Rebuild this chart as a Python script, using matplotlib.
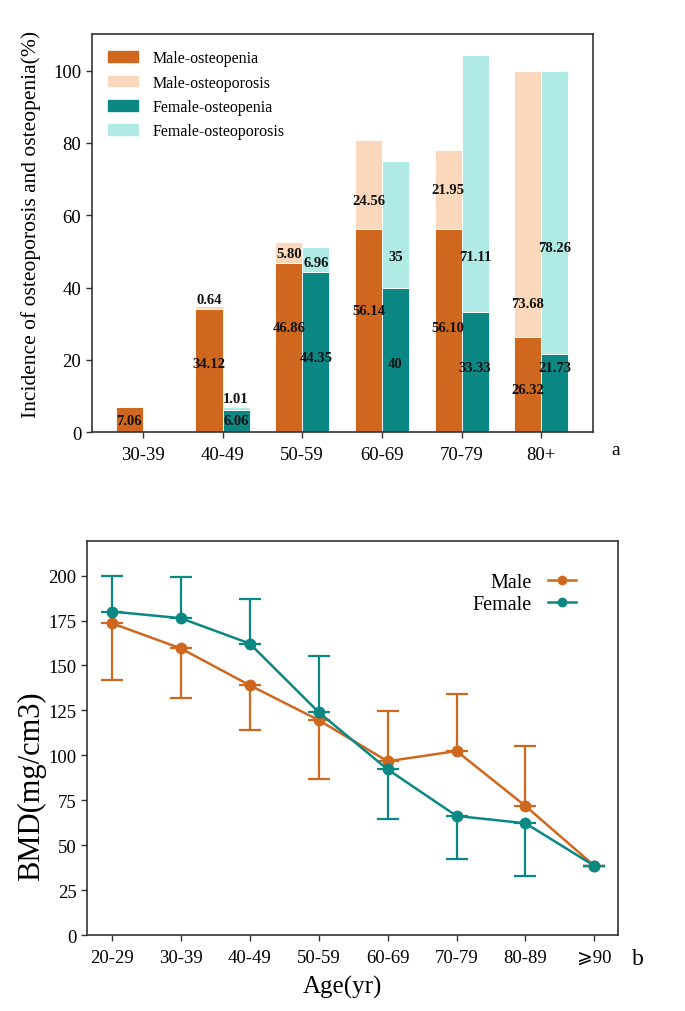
import matplotlib
matplotlib.use("Agg")
import matplotlib.pyplot as plt
import numpy as np
from matplotlib.patches import Patch
from matplotlib.lines import Line2D

plt.rcParams["font.family"] = ["Liberation Serif", "DejaVu Serif", "DejaVu Sans"]

# panel a: incidence by age group (%)
age_groups_a = ["30-39", "40-49", "50-59", "60-69", "70-79", "80+"]
male_osteopenia = [7.06, 34.12, 46.86, 56.14, 56.10, 26.32]
male_osteoporosis = [0, 0.64, 5.80, 24.56, 21.95, 73.68]
female_osteopenia = [0, 6.06, 44.35, 40, 33.33, 21.73]
female_osteoporosis = [0, 1.01, 6.96, 35, 71.11, 78.26]

male_penia_txt = ["7.06", "34.12", "46.86", "56.14", "56.10", "26.32"]
male_porosis_txt = ["", "0.64", "5.80", "24.56", "21.95", "73.68"]
female_penia_txt = ["", "6.06", "44.35", "40", "33.33", "21.73"]
female_porosis_txt = ["", "1.01", "6.96", "35", "71.11", "78.26"]

# where the value labels sit in the original (text layout only)
male_penia_lab_y = [3.1, 19, 29, 33.6, 29, 11.9]
male_porosis_lab_y = [0, 36.6, 49.5, 64, 67, 35.5]
female_penia_lab_y = [0, 3.1, 20.6, 19, 18, 18]
female_porosis_lab_y = [0, 9.4, 46.8, 48.6, 48.6, 51]

# panel b: BMD by age group
age_groups_b = ["20-29", "30-39", "40-49", "50-59", "60-69", "70-79", "80-89", "\u2a7e90"]
male_bmd = [173.5, 159.5, 139, 119.6, 96.7, 102.4, 71.8, 38.5]
male_err_low = [31.5, 27.8, 25, 33, 0, 0, 0, 0]
male_err_high = [0, 0, 0, 0, 28, 32, 33.2, 0]
female_bmd = [180, 176.3, 162.2, 124, 92.2, 66.3, 62.2, 38.5]
female_err_low = [0, 0, 0, 0, 27.8, 23.7, 29.4, 0]
female_err_high = [20, 23.1, 25, 31, 0, 0, 0, 0]

c_male = "#D0671F"
c_male_light = "#FBD8BB"
c_female = "#0B8883"
c_female_light = "#AFEAE5"
c_spine = "#333333"

fig = plt.figure(figsize=(6.85, 10.12), dpi=100)

# ---------- panel a ----------
ax1 = fig.add_axes([0.134, 0.572, 0.732, 0.393])
x = np.arange(len(age_groups_a))
w = 0.34
mp = np.array(male_osteopenia)
mo = np.array(male_osteoporosis)
fp = np.array(female_osteopenia)
fo = np.array(female_osteoporosis)
ax1.bar(x - w / 2, mp, w, color=c_male, edgecolor="white", linewidth=0.6)
ax1.bar(x - w / 2, mo, w, bottom=mp, color=c_male_light, edgecolor="white", linewidth=0.6)
ax1.bar(x + w / 2, fp, w, color=c_female, edgecolor="white", linewidth=0.6)
ax1.bar(x + w / 2, fo, w, bottom=fp, color=c_female_light, edgecolor="white", linewidth=0.6)


def put_labels(xpos, ypos, texts):
    for xi, yi, t in zip(xpos, ypos, texts):
        if t:
            ax1.text(xi, yi, t, ha="center", va="center", fontsize=10.5,
                     fontweight="bold", color="#111111")


put_labels(x - w / 2, male_penia_lab_y, male_penia_txt)
put_labels(x - w / 2, male_porosis_lab_y, male_porosis_txt)
put_labels(x + w / 2, female_penia_lab_y, female_penia_txt)
put_labels(x + w / 2, female_porosis_lab_y, female_porosis_txt)

ax1.set_xlim(-0.64, 5.65)
ax1.set_ylim(0, 110)
ax1.set_xticks(x)
ax1.set_xticklabels(age_groups_a, fontsize=13.5)
ax1.set_yticks(np.arange(0, 101, 20))
ax1.tick_params(axis="y", labelsize=13.5, length=4, width=1, color=c_spine)
ax1.tick_params(axis="x", length=4, width=1, color=c_spine, pad=6)
ax1.set_ylabel("Incidence of osteoporosis and osteopenia(%)", fontsize=15.5)
ax1.yaxis.set_label_coords(-0.102, 0.524)
for s in ax1.spines.values():
    s.set_color(c_spine)
    s.set_linewidth(1.2)

handles_a = [Patch(color=c_male), Patch(color=c_male_light),
             Patch(color=c_female), Patch(color=c_female_light)]
ax1.legend(handles_a, ["Male-osteopenia", "Male-osteoporosis",
                       "Female-osteopenia", "Female-osteoporosis"],
           loc="upper left", frameon=False, fontsize=11.5,
           handlelength=1.9, handleheight=0.65, handletextpad=0.9,
           labelspacing=0.52, borderaxespad=0.6)
fig.text(0.892, 0.555, "a", fontsize=14, ha="left", va="center")

# ---------- panel b ----------
ax2 = fig.add_axes([0.127, 0.075, 0.775, 0.389])
xb = np.arange(len(age_groups_b))
ax2.errorbar(xb, male_bmd, yerr=[male_err_low, male_err_high], color=c_male,
             marker="o", markersize=7.5, linewidth=1.8, elinewidth=1.6,
             capsize=8, capthick=1.6, label="Male")
ax2.errorbar(xb, female_bmd, yerr=[female_err_low, female_err_high], color=c_female,
             marker="o", markersize=7.5, linewidth=1.8, elinewidth=1.6,
             capsize=8, capthick=1.6, label="Female")
ax2.set_xlim(-0.36, 7.34)
ax2.set_ylim(0, 219)
ax2.set_xticks(xb)
ax2.set_xticklabels(age_groups_b, fontsize=13.5)
ax2.set_yticks(np.arange(0, 201, 25))
ax2.tick_params(axis="y", labelsize=13.5, length=4, width=1, color=c_spine)
ax2.tick_params(axis="x", length=4, width=1, color=c_spine, pad=6)
ax2.set_ylabel("BMD(mg/cm3)", fontsize=22)
ax2.yaxis.set_label_coords(-0.078, 0.38)
ax2.set_xlabel("Age(yr)", fontsize=18)
ax2.xaxis.set_label_coords(0.482, -0.1)
for s in ax2.spines.values():
    s.set_color(c_spine)
    s.set_linewidth(1.2)

handles_b = [Line2D([], [], color=c_male, marker="o", markersize=6, linewidth=1.8),
             Line2D([], [], color=c_female, marker="o", markersize=6, linewidth=1.8)]
ax2.legend(handles_b, ["Male", "Female"], loc="upper right", frameon=False,
           fontsize=14.5, markerfirst=False, handlelength=1.4, handletextpad=0.8,
           labelspacing=0.15, bbox_to_anchor=(0.956, 0.966))
fig.text(0.922, 0.052, "b", fontsize=17, ha="left", va="center")

fig.savefig("out.png", dpi=100)
